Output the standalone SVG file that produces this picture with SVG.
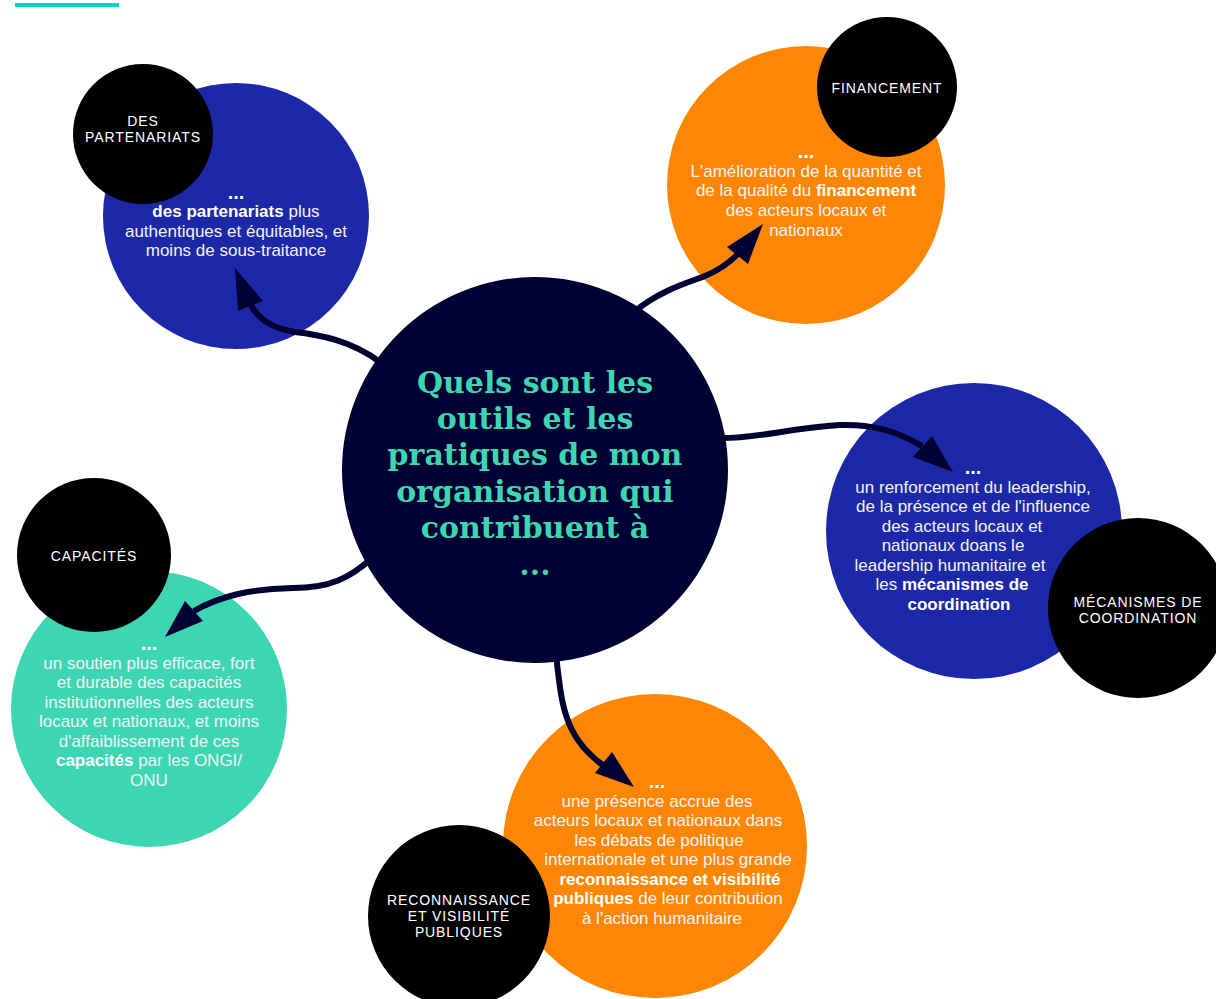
<svg xmlns="http://www.w3.org/2000/svg" width="1216" height="999" viewBox="0 0 1216 999">
<style>
.blue{fill:#1c28a8}
.orange{fill:#fe8605}
.teal{fill:#3dd6b2}
.navy{fill:#000033}
.blk{fill:#000}
.lbl{font-family:"Liberation Sans",Arial,sans-serif;font-size:14px;letter-spacing:0.9px;fill:#fff;text-anchor:middle}
.body{font-family:"Liberation Sans",Arial,sans-serif;font-size:17px;fill:#f4f4f4;text-anchor:middle}
.b{font-weight:700;fill:#fff}
.dots{font-family:"Liberation Sans",Arial,sans-serif;font-size:20px;font-weight:700;fill:#fff;text-anchor:middle}
.title{font-family:"DejaVu Serif","Liberation Serif",serif;font-size:30px;font-weight:700;fill:#3dd6b0;text-anchor:middle}
.conn{fill:none;stroke:#000033;stroke-width:6;stroke-linecap:butt}
.head{fill:#000033}
</style>
<rect x="15" y="3" width="104" height="4" fill="#00d6c4"/>

<g id="node-partenariats">
<circle class="blue" cx="236" cy="216" r="133"/>
<circle class="blk" cx="143" cy="134" r="70"/>
<text class="lbl" x="143" y="126">DES</text>
<text class="lbl" x="143" y="142">PARTENARIATS</text>
<text class="dots" x="236" y="199">...</text>
<text class="body" x="236" y="217"><tspan class="b">des partenariats</tspan> plus</text>
<text class="body" x="236" y="237">authentiques et équitables, et</text>
<text class="body" x="236" y="256">moins de sous-traitance</text>
</g>

<g id="node-financement">
<circle class="orange" cx="806" cy="185" r="139"/>
<circle class="blk" cx="887" cy="87" r="70"/>
<text class="lbl" x="887" y="93">FINANCEMENT</text>
<text class="dots" x="806" y="158">...</text>
<text class="body" x="806" y="177">L'amélioration de la quantité et</text>
<text class="body" x="806" y="196">de la qualité du <tspan class="b">financement</tspan></text>
<text class="body" x="806" y="216">des acteurs locaux et</text>
<text class="body" x="806" y="236">nationaux</text>
</g>

<g id="node-coordination">
<circle class="blue" cx="974" cy="531" r="148"/>
<circle class="blk" cx="1138" cy="608" r="90"/>
<text class="lbl" x="1138" y="607">MÉCANISMES DE</text>
<text class="lbl" x="1138" y="623">COORDINATION</text>
<text class="dots" x="973" y="474">...</text>
<text class="body" x="973" y="493">un renforcement du leadership,</text>
<text class="body" x="973" y="512">de la présence et de l'influence</text>
<text class="body" x="962" y="532">des acteurs locaux et</text>
<text class="body" x="953" y="551">nationaux doans le</text>
<text class="body" x="950" y="571">leadership humanitaire et</text>
<text class="body" x="952" y="590">les <tspan class="b">mécanismes de</tspan></text>
<text class="body" x="959" y="610"><tspan class="b">coordination</tspan></text>
</g>

<g id="node-capacites">
<circle class="teal" cx="149" cy="709" r="138"/>
<circle class="blk" cx="94" cy="555" r="77"/>
<text class="lbl" x="94" y="561">CAPACITÉS</text>
<text class="dots" x="149" y="650">...</text>
<text class="body" x="149" y="669">un soutien plus efficace, fort</text>
<text class="body" x="149" y="688">et durable des capacités</text>
<text class="body" x="149" y="708">institutionnelles des acteurs</text>
<text class="body" x="149" y="727">locaux et nationaux, et moins</text>
<text class="body" x="149" y="747">d'affaiblissement de ces</text>
<text class="body" x="149" y="766"><tspan class="b">capacités</tspan> par les ONGI/</text>
<text class="body" x="149" y="786">ONU</text>
</g>

<g id="node-reconnaissance">
<circle class="orange" cx="655" cy="846" r="152"/>
<circle class="blk" cx="459" cy="916" r="91"/>
<text class="lbl" x="459" y="905">RECONNAISSANCE</text>
<text class="lbl" x="459" y="921">ET VISIBILITÉ</text>
<text class="lbl" x="459" y="937">PUBLIQUES</text>
<text class="dots" x="657" y="788">...</text>
<text class="body" x="657" y="807">une présence accrue des</text>
<text class="body" x="658" y="826">acteurs locaux et nationaux dans</text>
<text class="body" x="659" y="846">les débats de politique</text>
<text class="body" x="668" y="865">internationale et une plus grande</text>
<text class="body" x="670" y="885"><tspan class="b">reconnaissance et visibilité</tspan></text>
<text class="body" x="668" y="904"><tspan class="b">publiques</tspan> de leur contribution</text>
<text class="body" x="662" y="924">à l'action humanitaire</text>
</g>

<g id="connectors">
<path class="conn" d="M380,362 C350,340 320,335 295,332 C270,328 258,318 250,304"/>
<polygon class="head" points="235,268 238,311 263,301"/>
<path class="conn" d="M634,312 C660,290 690,282 705,276 C720,270 730,262 738,254"/>
<polygon class="head" points="763,224 727,247 748,264"/>
<path class="conn" d="M722,438 C760,438 790,428 840,425 C870,424 895,430 922,446"/>
<polygon class="head" points="953,472 913,457 932,436"/>
<path class="conn" d="M372,558 C350,578 330,588 293,588 C250,589 220,596 194,611"/>
<polygon class="head" points="165,637 185,601 203,621"/>
<path class="conn" d="M556,655 C560,690 562,710 572,730 C580,746 590,756 604,766"/>
<polygon class="head" points="634,787 595,773 612,752"/>
</g>

<g id="node-center">
<circle class="navy" cx="535" cy="470" r="193"/>
<text class="title" x="535" y="393">Quels sont les</text>
<text class="title" x="535" y="429">outils et les</text>
<text class="title" x="535" y="465">pratiques de mon</text>
<text class="title" x="535" y="502">organisation qui</text>
<text class="title" x="535" y="538">contribuent à</text>
<text class="title" x="535" y="575">...</text>
</g>
</svg>
